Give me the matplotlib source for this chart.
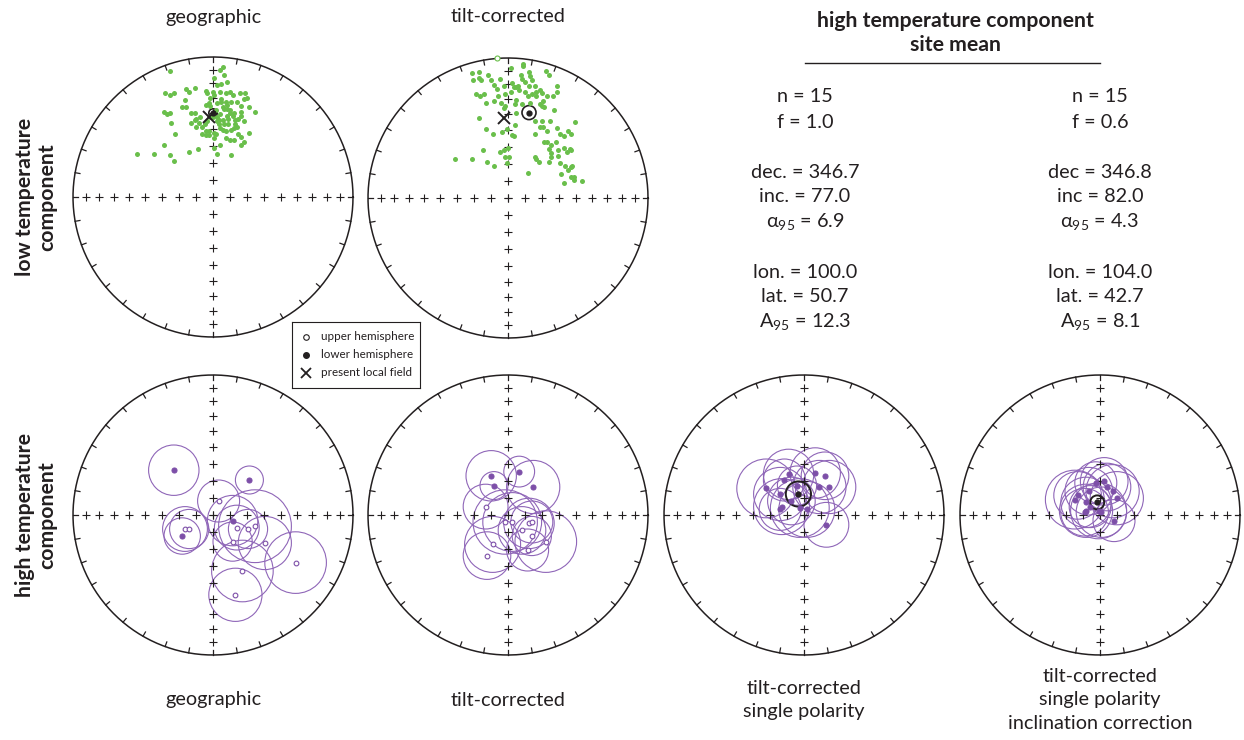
import numpy as np
import matplotlib.pyplot as plt
from matplotlib.patches import Circle

plt.rcParams['font.family'] = ['Lato', 'DejaVu Sans']
plt.rcParams['mathtext.fontset'] = 'custom'
plt.rcParams['mathtext.rm'] = 'Lato'

#? colours
GREEN = '#6abf4b'
PURPLE = '#7d4fa8'
PURPLE_LINE = '#8f66b8'
INK = '#231f20'

#? low temperature component, equal-area coords (east, north), unit = primitive circle
ltc_geo_x = [-0.31, 0.07, 0.05, 0.08, 0.01, 0.06, 0.03, 0.10, -0.34, -0.31, -0.28, -0.19, -0.17, -0.13,
             -0.20, -0.05, -0.04, 0.00, 0.01, 0.05, 0.09, 0.12, 0.14, 0.19, 0.23, 0.24, 0.22, -0.35,
             -0.31, -0.33, -0.22, -0.19, -0.16, -0.13, -0.09, -0.05, -0.03, -0.02, 0.03, 0.06, 0.09,
             0.10, 0.13, 0.17, 0.20, 0.20, 0.26, 0.30, -0.30, -0.13, -0.12, -0.10, -0.06, -0.04, -0.02,
             0.03, 0.05, 0.07, 0.11, 0.14, 0.16, 0.18, 0.20, 0.22, -0.16, -0.12, -0.08, -0.05, -0.03,
             0.01, 0.05, 0.07, 0.09, 0.13, 0.15, 0.17, -0.27, -0.08, -0.05, 0.01, 0.09, 0.12, 0.15,
             0.18, 0.20, 0.26, -0.35, -0.17, -0.11, 0.01, 0.03, 0.05, 0.13, 0.20, 0.22, -0.54, -0.42,
             -0.31, -0.28, -0.03, 0.02, 0.04, 0.08, 0.11, -0.01, 0.06, 0.12, 0.00, 0.03, 0.10, 0.15,
             0.04, 0.08, 0.12, -0.02, 0.07, 0.16, 0.02, 0.10]
ltc_geo_y = [0.90, 0.93, 0.91, 0.87, 0.85, 0.81, 0.80, 0.82, 0.74, 0.73, 0.74, 0.77, 0.75, 0.78,
             0.69, 0.76, 0.74, 0.75, 0.73, 0.75, 0.74, 0.75, 0.73, 0.74, 0.74, 0.71, 0.70, 0.61,
             0.60, 0.59, 0.64, 0.64, 0.60, 0.60, 0.57, 0.66, 0.67, 0.65, 0.67, 0.68, 0.68,
             0.66, 0.68, 0.68, 0.65, 0.61, 0.64, 0.61, 0.53, 0.55, 0.56, 0.53, 0.52, 0.54, 0.57,
             0.57, 0.59, 0.55, 0.56, 0.58, 0.55, 0.56, 0.58, 0.54, 0.53, 0.50, 0.50, 0.47, 0.44,
             0.46, 0.49, 0.48, 0.47, 0.48, 0.49, 0.50, 0.45, 0.45, 0.44, 0.42, 0.42, 0.41, 0.41,
             0.45, 0.43, 0.46, 0.37, 0.32, 0.34, 0.35, 0.31, 0.37, 0.30, 0.37, 0.39, 0.31, 0.31,
             0.30, 0.26, 0.47, 0.62, 0.52, 0.63, 0.52, 0.58, 0.70, 0.62, 0.57, 0.54, 0.63, 0.60,
             0.55, 0.52, 0.60, 0.71, 0.64, 0.52, 0.45, 0.58]

ltc_tilt_x = [0.11, 0.11, 0.02, 0.15, 0.27, 0.29, -0.26, -0.21, -0.21, -0.25, -0.19, -0.14, -0.12,
              -0.06, -0.10, -0.08, -0.03, 0.03, 0.04, 0.06, 0.07, 0.08, 0.09, 0.10, 0.12, 0.16, 0.17,
              0.15, 0.19, 0.23, 0.20, 0.12, 0.14, 0.17, 0.20, 0.24, 0.28, 0.32, 0.35, 0.35, -0.23,
              -0.20, -0.17, -0.07, -0.02, 0.02, 0.06, -0.16, -0.10, -0.05, -0.02, -0.03, 0.05, 0.10,
              0.16, 0.23, 0.24, 0.26, 0.25, 0.33, 0.06, -0.21, -0.16, -0.11, 0.05, -0.04, -0.01, 0.03,
              0.04, 0.19, 0.19, 0.24, 0.23, 0.25, 0.30, 0.28, 0.35, 0.37, 0.40, 0.43, 0.45, 0.48,
              0.26, 0.28, 0.31, 0.29, 0.34, 0.36, 0.40, 0.42, 0.44, 0.45, 0.31, -0.38, -0.26, -0.18,
              -0.15, -0.06, -0.03, 0.00, -0.02, 0.01, -0.01, -0.10, 0.19, 0.20, 0.22, 0.29, 0.31, 0.36,
              0.37, 0.41, 0.45, 0.46, 0.38, 0.43, 0.45, 0.47, 0.47, 0.53, 0.40, 0.14]
ltc_tilt_y = [0.96, 0.94, 0.93, 0.90, 0.91, 0.88, 0.89, 0.90, 0.86, 0.84, 0.84, 0.88, 0.84,
              0.85, 0.81, 0.78, 0.80, 0.82, 0.79, 0.79, 0.80, 0.77, 0.88, 0.85, 0.83, 0.87, 0.84,
              0.80, 0.80, 0.77, 0.76, 0.76, 0.73, 0.74, 0.73, 0.75, 0.73, 0.73, 0.76, 0.80, 0.74,
              0.73, 0.74, 0.73, 0.74, 0.76, 0.70, 0.68, 0.69, 0.68, 0.66, 0.64, 0.67, 0.67,
              0.68, 0.67, 0.66, 0.65, 0.69, 0.63, 0.61, 0.57, 0.49, 0.46, 0.52, 0.47, 0.49, 0.45,
              0.44, 0.46, 0.55, 0.55, 0.51, 0.51, 0.55, 0.48, 0.50, 0.46, 0.44, 0.48, 0.46, 0.54,
              0.40, 0.40, 0.38, 0.35, 0.40, 0.34, 0.36, 0.33, 0.35, 0.34, 0.32, 0.28, 0.28, 0.34,
              0.26, 0.33, 0.34, 0.36, 0.29, 0.29, 0.25, 0.23, 0.29, 0.28, 0.26, 0.26, 0.29, 0.30,
              0.25, 0.23, 0.22, 0.23, 0.17, 0.20, 0.15, 0.15, 0.13, 0.12, 0.11, 0.18]
ltc_tilt_up_x = [-0.08]
ltc_tilt_up_y = [1.00]

#? site means of low temperature component: x, y, a95 radius
ltc_geo_mean = [0.00, 0.60, 0.03]
ltc_tilt_mean = [0.15, 0.61, 0.05]
field_xy = [-0.03, 0.57]

#? high temperature component, per site: x, y, a95 radius, lower hemisphere (1) / upper (0)
htc_geo_x = [-0.28, 0.26, -0.22, -0.20, -0.17, 0.04, 0.14, 0.17, 0.25, 0.30, 0.37, 0.14, 0.21, 0.16, 0.59]
htc_geo_y = [0.32, 0.25, -0.15, -0.10, -0.10, 0.10, -0.04, -0.09, -0.10, -0.08, -0.20, -0.19, -0.40, -0.57, -0.34]
htc_geo_a95 = [0.18, 0.10, 0.13, 0.16, 0.14, 0.15, 0.18, 0.16, 0.14, 0.26, 0.19, 0.14, 0.22, 0.19, 0.22]
htc_geo_low = [1, 1, 1, 0, 0, 0, 1, 0, 0, 0, 0, 0, 0, 0, 0]

htc_tilt_x = [-0.12, 0.08, -0.10, 0.18, -0.16, -0.02, 0.03, 0.15, 0.17, 0.10, 0.17, 0.27, 0.14, -0.11, -0.15]
htc_tilt_y = [0.28, 0.31, 0.21, 0.20, 0.06, -0.05, -0.05, -0.06, -0.05, -0.11, -0.15, -0.19, -0.25, -0.21, -0.29]
htc_tilt_a95 = [0.18, 0.11, 0.10, 0.19, 0.16, 0.23, 0.21, 0.18, 0.15, 0.17, 0.14, 0.22, 0.15, 0.20, 0.17]
htc_tilt_low = [1, 1, 1, 1, 0, 0, 0, 0, 0, 0, 0, 0, 0, 0, 0]

htc_sp_x = [-0.11, -0.14, 0.08, 0.15, 0.11, 0.18, -0.27, -0.17, -0.16, -0.17, -0.03, 0.02, 0.16, -0.09, -0.05]
htc_sp_y = [0.29, 0.25, 0.30, 0.28, 0.20, 0.20, 0.19, 0.15, 0.06, 0.04, 0.05, 0.04, -0.07, 0.10, 0.21]
htc_sp_a95 = [0.18, 0.15, 0.18, 0.17, 0.19, 0.19, 0.21, 0.19, 0.20, 0.15, 0.21, 0.20, 0.16, 0.17, 0.14]
htc_sp_mean = [-0.04, 0.15, 0.09]

htc_ic_x = [-0.08, -0.18, -0.10, 0.05, 0.09, 0.12, 0.10, -0.10, -0.11, -0.01, 0.01, -0.07, 0.03, -0.03, -0.16]
htc_ic_y = [0.17, 0.11, 0.09, 0.20, 0.17, 0.12, -0.04, 0.03, 0.02, 0.03, 0.02, 0.06, 0.24, 0.23, 0.14]
htc_ic_a95 = [0.17, 0.21, 0.18, 0.17, 0.19, 0.19, 0.15, 0.19, 0.17, 0.20, 0.18, 0.15, 0.17, 0.15, 0.17]
htc_ic_mean = [-0.02, 0.09, 0.05]

#? site mean statistics
stat_left = ["n = 15", "f = 1.0", "", "dec. = 346.7", "inc. = 77.0", "α$_{95}$ = 6.9", "",
             "lon. = 100.0", "lat. = 50.7", "A$_{95}$ = 12.3"]
stat_right = ["n = 15", "f = 0.6", "", "dec = 346.8", "inc = 82.0", "α$_{95}$ = 4.3", "",
              "lon. = 104.0", "lat. = 42.7", "A$_{95}$ = 8.1"]

W, H = 1244, 740
R = 140
fig = plt.figure(figsize=(W / 100, H / 100), dpi=100)


def net_axes(cx, cy):
    half = 150
    ax = fig.add_axes([(cx - half) / W, 1 - (cy + half) / H, 2 * half / W, 2 * half / H])
    lim = half / R
    ax.set_xlim(-lim, lim)
    ax.set_ylim(-lim, lim)
    ax.set_aspect('equal')
    ax.axis('off')
    # primitive circle with 10 degree ticks
    t = np.linspace(0, 2 * np.pi, 400)
    ax.plot(np.cos(t), np.sin(t), color=INK, lw=1.1)
    for az in np.deg2rad(np.arange(0, 360, 10)):
        ax.plot([np.sin(az), 0.965 * np.sin(az)], [np.cos(az), 0.965 * np.cos(az)], color=INK, lw=0.9)
    # inclination crosses every 10 degrees along the axes
    inc = np.arange(10, 90, 10)
    r = np.sqrt(2) * np.sin(np.deg2rad(90 - inc) / 2)
    rr = np.concatenate([-r, [0], r[::-1]])
    ax.plot(rr, np.zeros_like(rr), '+', color=INK, ms=5.8, mew=0.8)
    ax.plot(np.zeros_like(rr), rr, '+', color=INK, ms=5.8, mew=0.8)
    return ax


def sites(ax, xs, ys, a95, low):
    for x, y, a, lo in zip(xs, ys, a95, low):
        ax.add_patch(Circle((x, y), a, fill=False, ec=PURPLE_LINE, lw=0.8))
        ax.plot(x, y, 'o', ms=3.6 if lo else 3.4, mfc=PURPLE if lo else 'white', mec=PURPLE, mew=0.8)


def mean(ax, m, lw=1.2):
    ax.add_patch(Circle((m[0], m[1]), m[2], fill=False, ec=INK, lw=lw))
    ax.plot(m[0], m[1], 'o', ms=3.5, color=INK)


#? low temperature component
ax = net_axes(213, 197)
ax.plot(ltc_geo_x, ltc_geo_y, 'o', ms=3.6, color=GREEN, mew=0)
mean(ax, ltc_geo_mean)
ax.plot(*field_xy, 'x', color=INK, ms=9, mew=1.4)

ax = net_axes(508, 198)
ax.plot(ltc_tilt_x, ltc_tilt_y, 'o', ms=3.6, color=GREEN, mew=0)
ax.plot(ltc_tilt_up_x, ltc_tilt_up_y, 'o', ms=3.6, mfc='white', mec=GREEN, mew=0.8)
mean(ax, ltc_tilt_mean)
ax.plot(*field_xy, 'x', color=INK, ms=9, mew=1.4)

#? high temperature component
ax = net_axes(213, 515)
sites(ax, htc_geo_x, htc_geo_y, htc_geo_a95, htc_geo_low)
ax = net_axes(508, 515)
sites(ax, htc_tilt_x, htc_tilt_y, htc_tilt_a95, htc_tilt_low)
ax = net_axes(804, 515)
sites(ax, htc_sp_x, htc_sp_y, htc_sp_a95, [1] * len(htc_sp_x))
mean(ax, htc_sp_mean, lw=1.4)
ax = net_axes(1100, 515)
sites(ax, htc_ic_x, htc_ic_y, htc_ic_a95, [1] * len(htc_ic_x))
mean(ax, htc_ic_mean, lw=1.4)

#? text labels (figure pixel coords)
def label(x, y, s, **kw):
    fig.text(x / W, 1 - y / H, s, ha='center', va='center', color=INK, **kw)


FS = 14.3
FB = 15.3
label(213, 17, "geographic", fontsize=FS)
label(508, 17, "tilt-corrected", fontsize=FS)
label(213, 700, "geographic", fontsize=FS)
label(508, 700, "tilt-corrected", fontsize=FS)
label(804, 700, "tilt-corrected\nsingle polarity", fontsize=FS, linespacing=1.45)
label(1100, 700, "tilt-corrected\nsingle polarity\ninclination correction", fontsize=FS, linespacing=1.45)
label(36, 197, "low temperature\ncomponent", fontsize=FB, fontweight='bold', rotation=90, linespacing=1.15)
label(36, 515, "high temperature\ncomponent", fontsize=FB, fontweight='bold', rotation=90, linespacing=1.15)
label(955, 33, "high temperature component\nsite mean", fontsize=FB, fontweight='bold', linespacing=1.3)
fig.add_artist(plt.Line2D([805 / W, 1100 / W], [1 - 63 / H, 1 - 63 / H], color=INK, lw=1.0))

for i, (a, b) in enumerate(zip(stat_left, stat_right)):
    label(805, 97 + 25 * i, a, fontsize=FS)
    label(1100, 97 + 25 * i, b, fontsize=FS)

#? legend box
lg = fig.add_axes([292 / W, 1 - 388 / H, 128 / W, 66 / H])
lg.set_xlim(0, 128)
lg.set_ylim(66, 0)
lg.set_xticks([])
lg.set_yticks([])
for s in lg.spines.values():
    s.set_linewidth(0.8)
    s.set_color(INK)
lg.plot(14, 15, 'o', ms=4, mfc='white', mec=INK, mew=0.8)
lg.plot(14, 33, 'o', ms=4, color=INK)
lg.plot(14, 51, 'x', ms=7, color=INK, mew=1.3)
for yy, s in zip([15, 33, 51], ["upper hemisphere", "lower hemisphere", "present local field"]):
    lg.text(29, yy, s, fontsize=8.4, va='center', color=INK)

fig.savefig('out.png', dpi=100)
